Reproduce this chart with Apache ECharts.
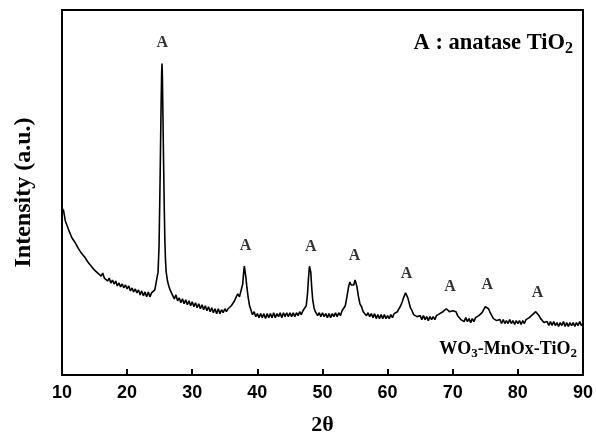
<!DOCTYPE html>
<html>
<head>
<meta charset="utf-8">
<script src="https://cdn.jsdelivr.net/npm/echarts@6/dist/echarts.min.js"></script>
<style>html,body{margin:0;padding:0;background:#fff}#c{width:596px;height:441px}</style>
</head>
<body>
<div id="c"></div>
<script>
// 2-theta (degrees) and intensity (a.u.)
const twoTheta = [
10.00,10.25,10.50,10.75,11.00,11.25,11.50,11.75,12.00,12.25,12.50,12.75,13.00,13.25,13.50,13.75,
14.00,14.25,14.50,14.75,15.00,15.25,15.50,15.75,16.00,16.25,16.50,16.75,17.00,17.25,17.50,17.75,
18.00,18.25,18.50,18.75,19.00,19.25,19.50,19.75,20.00,20.25,20.50,20.75,21.00,21.25,21.50,21.75,
22.00,22.25,22.50,22.75,23.00,23.25,23.50,23.75,24.00,24.25,24.50,24.75,
24.90,25.00,25.10,25.20,25.30,25.36,25.42,25.50,25.60,25.70,25.80,25.90,26.00,26.20,26.40,26.60,26.80,27.00,
27.25,27.50,27.75,28.00,28.25,28.50,28.75,29.00,29.25,29.50,29.75,30.00,30.25,30.50,30.75,31.00,
31.25,31.50,31.75,32.00,32.25,32.50,32.75,33.00,33.25,33.50,33.75,34.00,34.25,34.50,34.75,35.00,
35.25,35.50,35.75,36.00,36.25,36.50,36.75,37.00,37.25,37.50,37.75,37.90,38.00,38.10,38.25,38.40,
38.60,38.80,39.00,39.25,39.50,39.75,40.00,40.25,40.50,40.75,41.00,41.25,41.50,41.75,42.00,42.25,
42.50,42.75,43.00,43.25,43.50,43.75,44.00,44.25,44.50,44.75,45.00,45.25,45.50,45.75,46.00,46.25,
46.50,46.75,47.00,47.25,47.50,47.70,47.85,48.00,48.10,48.20,48.35,48.50,48.70,48.90,49.10,49.25,
49.50,49.75,50.00,50.25,50.50,50.75,51.00,51.25,51.50,51.75,52.00,52.25,52.50,52.75,53.00,53.25,
53.50,53.75,54.00,54.20,54.40,54.60,54.80,55.00,55.15,55.30,55.50,55.75,56.00,56.25,56.50,56.75,
57.00,57.25,57.50,57.75,58.00,58.25,58.50,58.75,59.00,59.25,59.50,59.75,60.00,60.25,60.50,60.75,
61.00,61.25,61.50,61.75,62.00,62.25,62.50,62.75,62.90,63.10,63.30,63.50,63.75,64.00,64.25,64.50,
64.75,65.00,65.25,65.50,65.75,66.00,66.25,66.50,66.75,67.00,67.25,67.50,67.75,68.00,68.25,68.50,
68.75,69.00,69.25,69.50,69.75,70.00,70.30,70.50,70.75,71.00,71.25,71.50,71.75,72.00,72.25,72.50,
72.75,73.00,73.25,73.50,73.75,74.00,74.25,74.50,74.75,75.00,75.25,75.50,75.75,76.00,76.25,76.50,
76.75,77.00,77.25,77.50,77.75,78.00,78.25,78.50,78.75,79.00,79.25,79.50,79.75,80.00,80.25,80.50,
80.75,81.00,81.25,81.50,81.75,82.00,82.25,82.50,82.75,83.00,83.25,83.50,83.75,84.00,84.25,84.50,
84.75,85.00,85.25,85.50,85.75,86.00,86.25,86.50,86.75,87.00,87.25,87.50,87.75,88.00,88.25,88.50,
88.75,89.00,89.25,89.50,89.75,90.00
];
const intensity = [
169,166,156,155,147,147,139,140,134,135,128,129,123,125,119,120,
114,116,110,112,106,108,103,105,100,103,98,100,95,98,93,96,
92,95,90,93,89,92,88,91,87,90,85,88,84,87,83,86,
81,85,80,84,79,84,79,83,81,86,88,104,
130,170,215,265,305,315,300,262,215,170,135,115,104,95,90,86,83,81,
77,81,75,78,73,77,72,76,71,75,70,74,69,73,68,72,
67,71,66,70,65,69,64,68,63,67,62,67,62,66,63,67,
64,67,67,70,71,75,79,82,79,80,92,104,110,108,98,88,
78,70,66,61,64,59,62,58,62,58,62,57,62,58,62,58,
63,58,62,59,63,58,63,59,63,59,63,59,63,59,63,60,
64,61,65,64,70,82,98,110,112,104,88,76,68,64,62,60,
63,59,63,59,62,58,62,58,62,59,63,59,63,60,65,65,
70,79,89,94,91,89,91,96,95,89,80,72,69,64,65,60,
63,59,62,58,62,57,61,57,61,57,61,57,60,57,61,58,
62,60,64,66,70,74,79,83,82,78,73,68,65,61,60,59,
57,60,56,60,56,59,55,59,56,59,56,60,58,62,60,64,
65,67,65,64,63,65,67,64,60,58,56,58,54,58,54,57,
53,57,54,58,56,60,59,63,66,69,70,67,63,60,57,57,
55,54,56,52,56,52,55,52,56,52,55,51,55,52,55,51,
55,52,56,55,58,58,61,62,64,62,60,57,55,53,51,54,
50,54,50,54,50,53,49,53,50,54,49,53,49,53,50,53,
49,53,50,54,50,52
];
// peak marker "A" label positions (2θ, intensity)
const peakLabelX = [25.4, 38.2, 48.2, 54.9, 62.9, 69.6, 75.3, 83.0];
const peakLabelY = [336, 131, 130, 120, 102, 89, 91, 83];
const peakLabelText = ['A','A','A','A','A','A','A','A'];
const xTicks = [10, 20, 30, 40, 50, 60, 70, 80, 90];

const lineData = twoTheta.map((t, i) => [t, intensity[i]]);
const labelData = peakLabelX.map((t, i) => ({value: [t, peakLabelY[i]], name: peakLabelText[i]}));

const serif = '"Liberation Serif","Times New Roman",serif';
const sans = '"Liberation Sans",Arial,sans-serif';

const chart = echarts.init(document.getElementById('c'), null, {renderer: 'canvas'});
chart.setOption({
  animation: false,
  backgroundColor: '#fff',
  grid: {left: 62, right: 12, top: 10, bottom: 62, show: true, borderColor: '#000', borderWidth: 2},
  title: [
    {
      text: '{a|A : anatase TiO}{s|2}',
      right: 18, top: 25,
      textStyle: {
        rich: {
          a: {fontFamily: serif, fontWeight: 'bold', fontSize: 22.5, color: '#000'},
          s: {fontFamily: serif, fontWeight: 'bold', fontSize: 16, color: '#000', padding: [11, 0, 0, 0]}
        }
      }
    },
    {
      text: '{a|WO}{s|3}{a|-MnOx-TiO}{s|2}',
      right: 14, top: 333,
      textStyle: {
        rich: {
          a: {fontFamily: serif, fontWeight: 'bold', fontSize: 18, color: '#000'},
          s: {fontFamily: serif, fontWeight: 'bold', fontSize: 13, color: '#000', padding: [9, 0, 0, 0]}
        }
      }
    }
  ],
  xAxis: {
    type: 'value', min: 10, max: 90, interval: 10,
    name: '2θ', nameLocation: 'middle', nameGap: 39,
    nameTextStyle: {fontFamily: serif, fontWeight: 'bold', fontSize: 22, color: '#000'},
    axisLine: {show: true, lineStyle: {color: '#000', width: 2}},
    axisTick: {show: true, inside: true, length: 6, lineStyle: {color: '#000', width: 2}},
    axisLabel: {fontFamily: sans, fontWeight: 'bold', fontSize: 18, color: '#000', margin: 9,
      formatter: v => xTicks.includes(v) ? String(v) : ''},
    splitLine: {show: false}
  },
  yAxis: {
    type: 'value', min: 0, max: 369,
    name: 'Intensity (a.u.)', nameLocation: 'middle', nameGap: 26,
    nameTextStyle: {fontFamily: serif, fontWeight: 'bold', fontSize: 24, color: '#000'},
    axisLine: {show: true, lineStyle: {color: '#000', width: 2}},
    axisTick: {show: false},
    axisLabel: {show: false},
    splitLine: {show: false}
  },
  series: [
    {
      type: 'line', data: lineData, showSymbol: false, symbol: 'none',
      lineStyle: {color: '#000', width: 1.6}, z: 3
    },
    {
      type: 'scatter', data: labelData, symbolSize: 0, silent: true,
      label: {show: true, position: 'inside', formatter: p => p.name,
        fontFamily: serif, fontWeight: 'bold', fontSize: 16, color: '#000'}
    }
  ]
});
</script>
</body>
</html>
